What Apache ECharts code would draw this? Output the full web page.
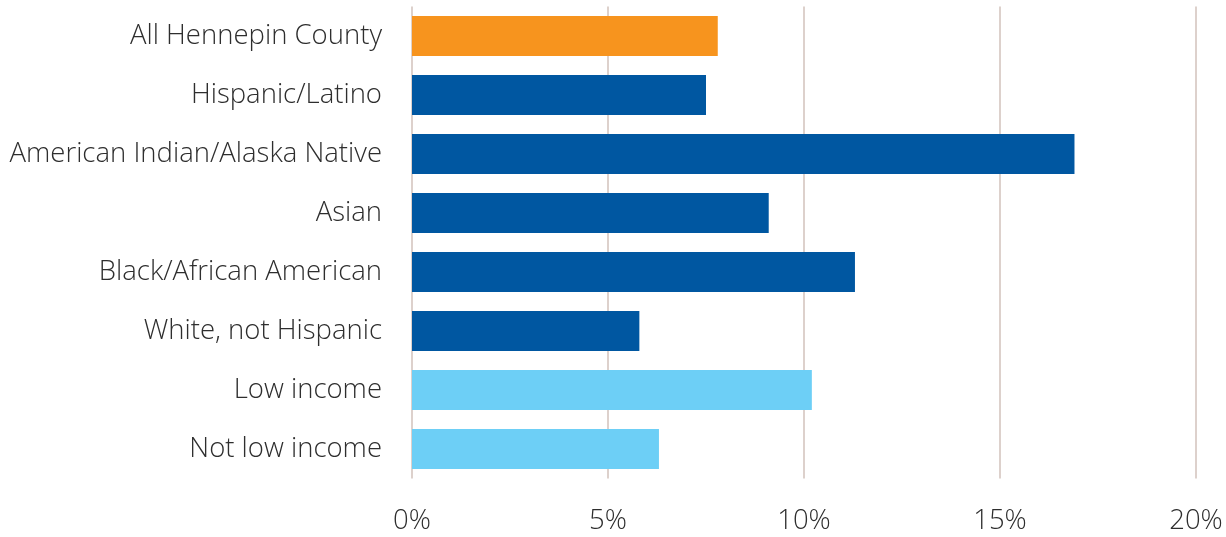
<!DOCTYPE html>
<html>
<head>
<meta charset="utf-8">
<script src="https://cdn.jsdelivr.net/npm/echarts@6/dist/echarts.min.js"></script>
<style>
  html, body { margin: 0; padding: 0; background: #ffffff; }
  #chart { width: 1226px; height: 537px; }
</style>
</head>
<body>
<div id="chart"></div>
<script>
// Groups shown as rows, top to bottom
const categories = [
  'All Hennepin County',
  'Hispanic/Latino',
  'American Indian/Alaska Native',
  'Asian',
  'Black/African American',
  'White, not Hispanic',
  'Low income',
  'Not low income'
];
// Percent value for each group
const values = [7.8, 7.5, 16.9, 9.1, 11.3, 5.8, 10.2, 6.3];
// Colour family for each row: county total, race/ethnicity, income
const groupKind = ['total', 'race', 'race', 'race', 'race', 'race', 'income', 'income'];
const kindColors = { total: '#F7941E', race: '#0057A1', income: '#6DCFF6' };
const xTicks = [0, 5, 10, 15, 20];

const chart = echarts.init(document.getElementById('chart'), null, { renderer: 'canvas' });
const font = '"Open Sans", "Noto Sans", sans-serif';

chart.setOption({
  animation: false,
  grid: { left: 412, right: 30, top: 6.5, bottom: 58.5, containLabel: false },
  xAxis: {
    type: 'value',
    min: xTicks[0],
    max: xTicks[xTicks.length - 1],
    interval: xTicks[1] - xTicks[0],
    axisLine: { show: false },
    axisTick: { show: false },
    splitLine: { show: true, lineStyle: { color: '#DDD1CC', width: 2 } },
    axisLabel: {
      formatter: v => v + '%',
      color: '#2E2E2E',
      fontFamily: font,
      fontWeight: 300,
      fontSize: 27.5,
      margin: 29
    }
  },
  yAxis: {
    type: 'category',
    data: categories,
    inverse: true,
    axisLine: { show: false },
    axisTick: { show: false },
    axisLabel: {
      color: '#2E2E2E',
      fontFamily: font,
      fontWeight: 300,
      fontSize: 27.5,
      margin: 30,
      padding: [4, 0, 0, 0]
    }
  },
  series: [{
    type: 'bar',
    barCategoryGap: '32%',
    data: values.map((v, i) => ({ value: v, itemStyle: { color: kindColors[groupKind[i]] } }))
  }]
});
</script>
</body>
</html>
